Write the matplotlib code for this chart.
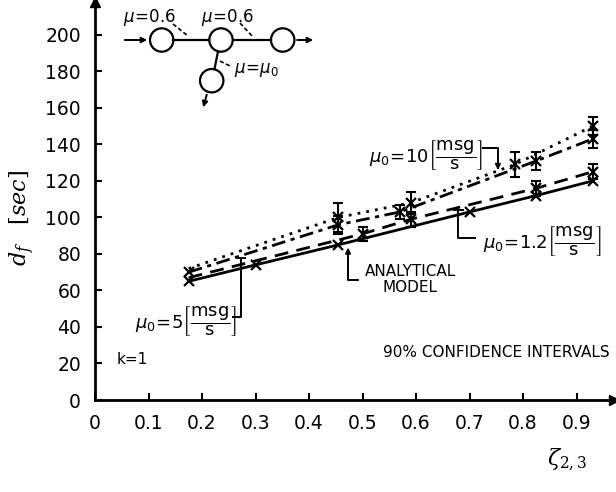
import matplotlib
matplotlib.use("Agg")
import matplotlib.pyplot as plt
from matplotlib.patches import Circle

# ---------------- data ----------------
zeta_mu10 = [0.175, 0.455, 0.59, 0.785, 0.93]
d_mu10 = [72, 100, 108, 129, 150]
err_mu10 = [0, 8, 6, 7, 5]

zeta_mu5 = [0.175, 0.455, 0.57, 0.825, 0.93]
d_mu5 = [70, 96, 103, 131, 143]
err_mu5 = [0, 5, 4, 5, 5]

zeta_mu12 = [0.175, 0.5, 0.59, 0.825, 0.93]
d_mu12 = [67, 91, 99, 116, 125]
err_mu12 = [0, 4, 4, 4, 4]

zeta_model = [0.175, 0.3, 0.455, 0.7, 0.825, 0.93]
d_model = [65, 74, 85, 103, 112, 120]

xticks = [0, 0.1, 0.2, 0.3, 0.4, 0.5, 0.6, 0.7, 0.8, 0.9]
xticklabels = ["0", "0.1", "0.2", "0.3", "0.4", "0.5", "0.6", "0.7", "0.8", "0.9"]
yticks = [0, 20, 40, 60, 80, 100, 120, 140, 160, 180, 200]

# ---------------- figure ----------------
W, H = 616, 492
fig = plt.figure(figsize=(W / 100, H / 100), dpi=100)
ax = fig.add_axes([95 / W, 1 - 400 / H, 519 / W, 398 / H])
ax.set_xlim(0, 0.97)
ax.set_ylim(0, 218)

for s in ("top", "right"):
    ax.spines[s].set_visible(False)
for s in ("left", "bottom"):
    ax.spines[s].set_linewidth(2)
ax.plot(1, 0, ">k", ms=7, transform=ax.transAxes, clip_on=False)
ax.plot(0, 1, "^k", ms=7, transform=ax.transAxes, clip_on=False)

ax.set_xticks(xticks)
ax.set_xticklabels(xticklabels)
ax.set_yticks(yticks)
ax.tick_params(direction="in", length=5, width=1.5, labelsize=13.5)
ax.tick_params(axis="x", pad=10)
ax.tick_params(axis="y", pad=10)

lw = 2
series = [
    (zeta_mu10, d_mu10, err_mu10, (0, (1, 2.2)), [1, 2, 3, 4]),
    (zeta_mu5, d_mu5, err_mu5, (0, (5, 2, 1.5, 2)), [0, 1, 2, 3, 4]),
    (zeta_mu12, d_mu12, err_mu12, (0, (5, 3)), [1, 2, 3, 4]),
]
for zx, dy, er, ls, mk in series:
    ax.plot(zx, dy, color="black", lw=lw, ls=ls, marker="x", ms=7, mew=1.6,
            markevery=mk)
    ex = [x for x, e in zip(zx, er) if e > 0]
    ey = [y for y, e in zip(dy, er) if e > 0]
    ee = [e for e in er if e > 0]
    ax.errorbar(ex, ey, yerr=ee, fmt="none", ecolor="black", elinewidth=1.5,
                capsize=3.5, capthick=1.5)
ax.plot(zeta_model, d_model, color="black", lw=lw, ls="-", marker="x", ms=7, mew=1.6)

# ---------------- annotations ----------------
tk = dict(color="black", lw=1.4)
fs = 11
unit = r"\left[\dfrac{\mathrm{msg}}{\mathrm{s}}\right]"

# mu0 = 10
ax.text(0.618, 134, r"$\mu_0\!=\!10" + unit + "$",
        fontsize=13, ha="center", va="center")
ax.plot([0.725, 0.753, 0.753], [138, 138, 127], **tk)
ax.annotate("", xy=(0.753, 124.5), xytext=(0.753, 130),
            arrowprops=dict(arrowstyle="-|>", color="black", lw=1.2, mutation_scale=8))

# mu0 = 1.2
ax.text(0.835, 87, r"$\mu_0\!=\!1.2" + unit + "$",
        fontsize=13, ha="center", va="center")
ax.plot([0.71, 0.679, 0.679], [89, 89, 104], **tk)
ax.plot([0.671, 0.687], [104, 104], **tk)

# analytical model
ax.text(0.589, 66, "ANALYTICAL\nMODEL", fontsize=fs, ha="center", va="center",
        linespacing=1.05)
ax.plot([0.492, 0.473, 0.473], [66, 66, 80], **tk)
ax.annotate("", xy=(0.473, 85), xytext=(0.473, 79),
            arrowprops=dict(arrowstyle="-|>", color="black", lw=1.2, mutation_scale=8))

# mu0 = 5
ax.text(0.17, 43, r"$\mu_0\!=\!5" + unit + "$",
        fontsize=13, ha="center", va="center")
ax.plot([0.258, 0.273, 0.273], [45.5, 45.5, 78], **tk)
ax.plot([0.265, 0.281], [78, 78], **tk)

ax.text(0.069, 22, "k=1", fontsize=fs, ha="center", va="center")
ax.text(0.75, 26, "90% CONFIDENCE INTERVALS", fontsize=fs, ha="center", va="center")

# axis labels
fig.text(22 / W, 1 - 218 / H, r"$d_f\quad[sec]$", rotation=90, fontsize=16,
         math_fontfamily="dejavuserif", ha="center", va="center")
fig.text(567 / W, 1 - 460 / H, r"$\zeta_{2,3}$", fontsize=16,
         math_fontfamily="dejavuserif", ha="center", va="center")

# ---------------- network inset ----------------
ins = fig.add_axes([110 / W, 1 - 125 / H, 215 / W, 120 / H])
ins.set_xlim(110, 325)
ins.set_ylim(125, 5)
ins.set_aspect("equal")
ins.axis("off")
r = 11.7
centers = [(161.7, 40), (221, 40), (282.7, 40), (211.7, 80.7)]
for cx, cy in centers:
    ins.add_patch(Circle((cx, cy), r, fill=False, lw=1.6, color="black"))
ins.annotate("", xy=(161.7 - r, 40), xytext=(122, 40),
             arrowprops=dict(arrowstyle="-|>", color="black", lw=1.4, mutation_scale=8))
ins.plot([161.7 + r, 221 - r], [40, 40], color="black", lw=1.6)
ins.plot([221 + r, 282.7 - r], [40, 40], color="black", lw=1.6)
ins.annotate("", xy=(316, 40), xytext=(282.7 + r, 40),
             arrowprops=dict(arrowstyle="-|>", color="black", lw=1.4, mutation_scale=8))
ins.plot([218, 214.5], [51.5, 69], color="black", lw=1.6)
ins.annotate("", xy=(202.5, 110), xytext=(207.5, 92),
             arrowprops=dict(arrowstyle="-|>", color="black", lw=1.4, mutation_scale=8))
dk = dict(color="black", lw=1.2, ls=(0, (2.5, 1.5)))
ins.plot([173, 188], [24, 36], **dk)
ins.plot([240, 253], [23, 37], **dk)
ins.plot([220, 232], [61, 67], **dk)
ins.text(150, 17, r"$\mu\!=\!0.6$", fontsize=12, ha="center", va="center")
ins.text(228, 17, r"$\mu\!=\!0.6$", fontsize=12, ha="center", va="center")
ins.text(256, 70, r"$\mu\!=\!\mu_0$", fontsize=12, ha="center", va="center")

fig.savefig("out.png", dpi=100)
